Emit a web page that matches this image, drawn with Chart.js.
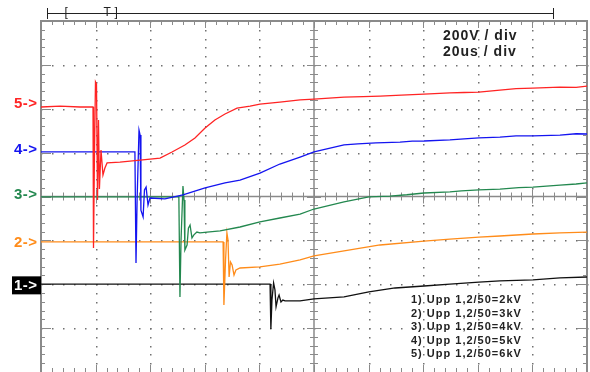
<!DOCTYPE html>
<html>
<head>
<meta charset="utf-8">
<script src="https://cdn.jsdelivr.net/npm/chart.js@4.4.1/dist/chart.umd.min.js"></script>
<style>
  html, body { margin: 0; padding: 0; background: #fff; }
  #wrap { width: 590px; height: 372px; position: relative; }
</style>
</head>
<body>
<div id="wrap"><canvas id="scope"></canvas></div>
<script>
// time in us (20us/div), voltage in V (200V/div)
const t1 = [0, 83.9, 84.2, 84.6, 85.2, 85.7, 86.1, 86.8, 87.2, 87.9, 88.6, 89.4, 94.9, 100, 111, 120.1, 129.7, 140.3, 149.8, 160.4, 168.1, 180.2, 190.1, 200];
const v1 = [-399, -399, -604, -472, -394, -426, -503, -462, -449, -481, -472, -476, -476, -467, -458, -435, -417, -408, -399, -390, -385, -380, -371, -367];

const t2 = [0, 66.7, 67.0, 67.6, 68.1, 68.5, 68.9, 69.4, 70.0, 70.7, 71.4, 72.9, 80.2, 87.5, 94.9, 100, 111, 124.2, 140.3, 149.8, 160.4, 168.1, 180.2, 190.1, 200];
const v2 = [-207, -207, -494, -289, -166, -198, -367, -298, -312, -358, -335, -326, -321, -308, -289, -271, -248, -221, -203, -194, -185, -180, -171, -166, -162];

const t3 = [0, 50.5, 50.9, 51.3, 52.0, 52.4, 52.7, 53.5, 54.0, 54.6, 55.3, 56.0, 57.1, 58.2, 60.8, 65.6, 72.9, 80.2, 87.5, 94.9, 100, 111, 116, 120.1, 127.8, 134, 140.3, 149.8, 154, 160.4, 168.1, 175, 180.2, 190.1, 196, 200];
const v3 = [-2, -2, -458, -198, 48, -16, -244, -221, -144, -130, -189, -175, -162, -166, -162, -157, -139, -116, -98, -80, -57, -25, -12, -2, 2, 8, 16, 21, 26, 30, 34, 40, 43, 52, 57, 62];

const t4 = [0, 34.4, 34.8, 35.2, 35.9, 36.3, 36.6, 37.4, 37.9, 38.5, 39.2, 39.9, 45.4, 52.0, 60.1, 67.4, 72.9, 80.2, 87.5, 94.9, 100, 111, 116, 122.7, 131.5, 136, 140.3, 149.8, 155, 160.4, 168.1, 174, 180.2, 190.1, 196, 200];
const v4 = [203, 203, -303, -16, 303, 280, -62, -93, 30, 43, -39, -7, -11, 7, 39, 62, 75, 107, 148, 180, 203, 235, 240, 244, 248, 252, 253, 258, 263, 267, 271, 276, 276, 280, 286, 285];

const t5 = [0, 7.0, 14.3, 19.05, 19.23, 19.6, 19.96, 20.33, 20.7, 21.06, 21.4, 21.98, 22.7, 23.4, 24.2, 28.9, 36.3, 43.6, 48.0, 52.7, 56.4, 60.1, 63.7, 67.4, 71.8, 76.6, 80.2, 87.5, 94.9, 100, 111, 118, 124.2, 132, 140.3, 149.8, 155, 160.4, 168.1, 174, 180.2, 190.1, 196, 200];
const v5 = [408, 412, 408, 408, -235, 212, 522, 512, -16, 349, 34, 212, 98, 130, 153, 157, 166, 175, 203, 235, 267, 312, 349, 376, 403, 412, 421, 430, 440, 444, 453, 455, 458, 462, 467, 472, 474, 476, 485, 492, 494, 499, 497, 503];

const channelNames = ['1', '2', '3', '4', '5'];
const channelColors = ['#111111', '#ff8c1a', '#23884f', '#1414f0', '#ff2424'];
const markerLevels = [-405, -207, 9, 217, 426];
const scaleLabels = ['200V / div', '20us / div'];
const legendLines = ['1) Upp 1,2/50=2kV', '2) Upp 1,2/50=3kV', '3) Upp 1,2/50=4kV', '4) Upp 1,2/50=5kV', '5) Upp 1,2/50=6kV'];

const times = [t1, t2, t3, t4, t5];
const volts = [v1, v2, v3, v4, v5];

// screen grid of the scope: dotted divisions, centre cross, border ticks
const scopeGrid = {
    id: 'scopeGrid',
    beforeDatasetsDraw(chart) {
        const { ctx, chartArea: a, scales: { x, y } } = chart;
        ctx.save();
        ctx.fillStyle = '#707070';
        for (let t = 20; t < 200; t += 20) {
            if (t === 100) continue;
            const px = Math.round(x.getPixelForValue(t));
            for (let v = -800; v <= 800; v += 40) {
                ctx.fillRect(px, Math.round(y.getPixelForValue(v)), 1.5, 1.5);
            }
        }
        for (let v = -600; v < 800; v += 200) {
            if (v === 0) continue;
            const py = Math.round(y.getPixelForValue(v));
            for (let t = 0; t <= 200; t += 4) {
                ctx.fillRect(Math.round(x.getPixelForValue(t)), py, 1.5, 1.5);
            }
        }

        ctx.strokeStyle = '#8a8a8a';
        ctx.lineWidth = 1.5;
        const cx = x.getPixelForValue(100);
        const cy = y.getPixelForValue(0);
        ctx.beginPath();
        ctx.moveTo(a.left, cy); ctx.lineTo(a.right, cy);
        ctx.moveTo(cx, a.top); ctx.lineTo(cx, a.bottom);
        ctx.stroke();

        ctx.lineWidth = 1;
        ctx.beginPath();
        for (let t = 0; t <= 200; t += 4) {
            const px = Math.round(x.getPixelForValue(t)) + 0.5;
            const major = t % 20 === 0;
            const len = major ? 7 : 4;
            ctx.moveTo(px, a.top); ctx.lineTo(px, a.top + len);
            ctx.moveTo(px, a.bottom); ctx.lineTo(px, a.bottom - len);
            ctx.moveTo(px, cy - (major ? 7 : 4)); ctx.lineTo(px, cy + (major ? 7 : 4));
        }
        for (let v = -800; v <= 800; v += 40) {
            const py = Math.round(y.getPixelForValue(v)) + 0.5;
            const major = v % 200 === 0;
            const len = major ? 10 : 4;
            ctx.moveTo(a.left, py); ctx.lineTo(a.left + len, py);
            ctx.moveTo(a.right, py); ctx.lineTo(a.right - len, py);
            ctx.moveTo(cx - (major ? 7 : 4), py); ctx.lineTo(cx + (major ? 7 : 4), py);
        }
        ctx.stroke();

        ctx.lineWidth = 2;
        ctx.strokeRect(a.left, a.top, a.right - a.left, a.bottom - a.top + 2);
        ctx.restore();
    },
    afterDraw(chart) {
        const { ctx, chartArea: a, scales: { x, y } } = chart;
        ctx.save();

        // trigger / memory bar above the screen
        ctx.strokeStyle = '#222';
        ctx.fillStyle = '#222';
        ctx.lineWidth = 1;
        const x0 = Math.round(x.getPixelForValue(2.2)) + 0.5;
        const x1 = Math.round(x.getPixelForValue(187.5)) + 0.5;
        ctx.beginPath();
        ctx.moveTo(x0, 13.5); ctx.lineTo(x1, 13.5);
        ctx.moveTo(x0, 8); ctx.lineTo(x0, 19);
        ctx.moveTo(x1, 8); ctx.lineTo(x1, 19);
        ctx.stroke();
        ctx.font = '12px "Liberation Sans", Arial, sans-serif';
        ctx.textBaseline = 'middle';
        ctx.textAlign = 'center';
        ctx.fillText('[', x.getPixelForValue(9.2), 13);
        ctx.fillText('T', x.getPixelForValue(24.2), 13);
        ctx.fillText(']', x.getPixelForValue(27.5), 13);

        // channel markers
        ctx.textAlign = 'left';
        ctx.font = 'bold 15px "Liberation Sans", Arial, sans-serif';
        ctx.letterSpacing = '0.5px';
        markerLevels.forEach((lv, i) => {
            const py = y.getPixelForValue(lv);
            if (i === 0) {
                ctx.fillStyle = '#000';
                ctx.fillRect(12, py - 9, 29, 18);
                ctx.fillStyle = '#fff';
            } else {
                ctx.fillStyle = channelColors[i];
            }
            ctx.fillText(channelNames[i] + '->', 14, py + 0.5);
        });

        // scale info
        ctx.letterSpacing = '1px';
        ctx.fillStyle = '#222';
        ctx.font = 'bold 14px "Liberation Sans", Arial, sans-serif';
        scaleLabels.forEach((s, i) => ctx.fillText(s, 443, 36 + i * 16));

        // test levels
        ctx.font = 'bold 11px "Liberation Sans", Arial, sans-serif';
        legendLines.forEach((s, i) => ctx.fillText(s, 411, 300 + i * 13.5));
        ctx.restore();
    }
};

const datasets = [];
for (let i = 4; i >= 0; i--) {
    datasets.push({
        label: 'CH' + channelNames[i],
        data: times[i].map((t, k) => ({ x: t, y: volts[i][k] })),
        borderColor: channelColors[i],
        borderWidth: 1.3,
        pointRadius: 0,
        tension: 0,
        fill: false
    });
}

new Chart(document.getElementById('scope'), {
    type: 'line',
    data: { datasets: datasets },
    options: {
        responsive: true,
        maintainAspectRatio: false,
        animation: false,
        layout: { padding: { left: 41, right: 3, top: 21, bottom: 0 } },
        plugins: { legend: { display: false }, tooltip: { enabled: false } },
        scales: {
            x: { type: 'linear', min: 0, max: 200, display: false },
            y: { type: 'linear', min: -800, max: 800, display: false }
        }
    },
    plugins: [scopeGrid]
});
</script>
</body>
</html>
